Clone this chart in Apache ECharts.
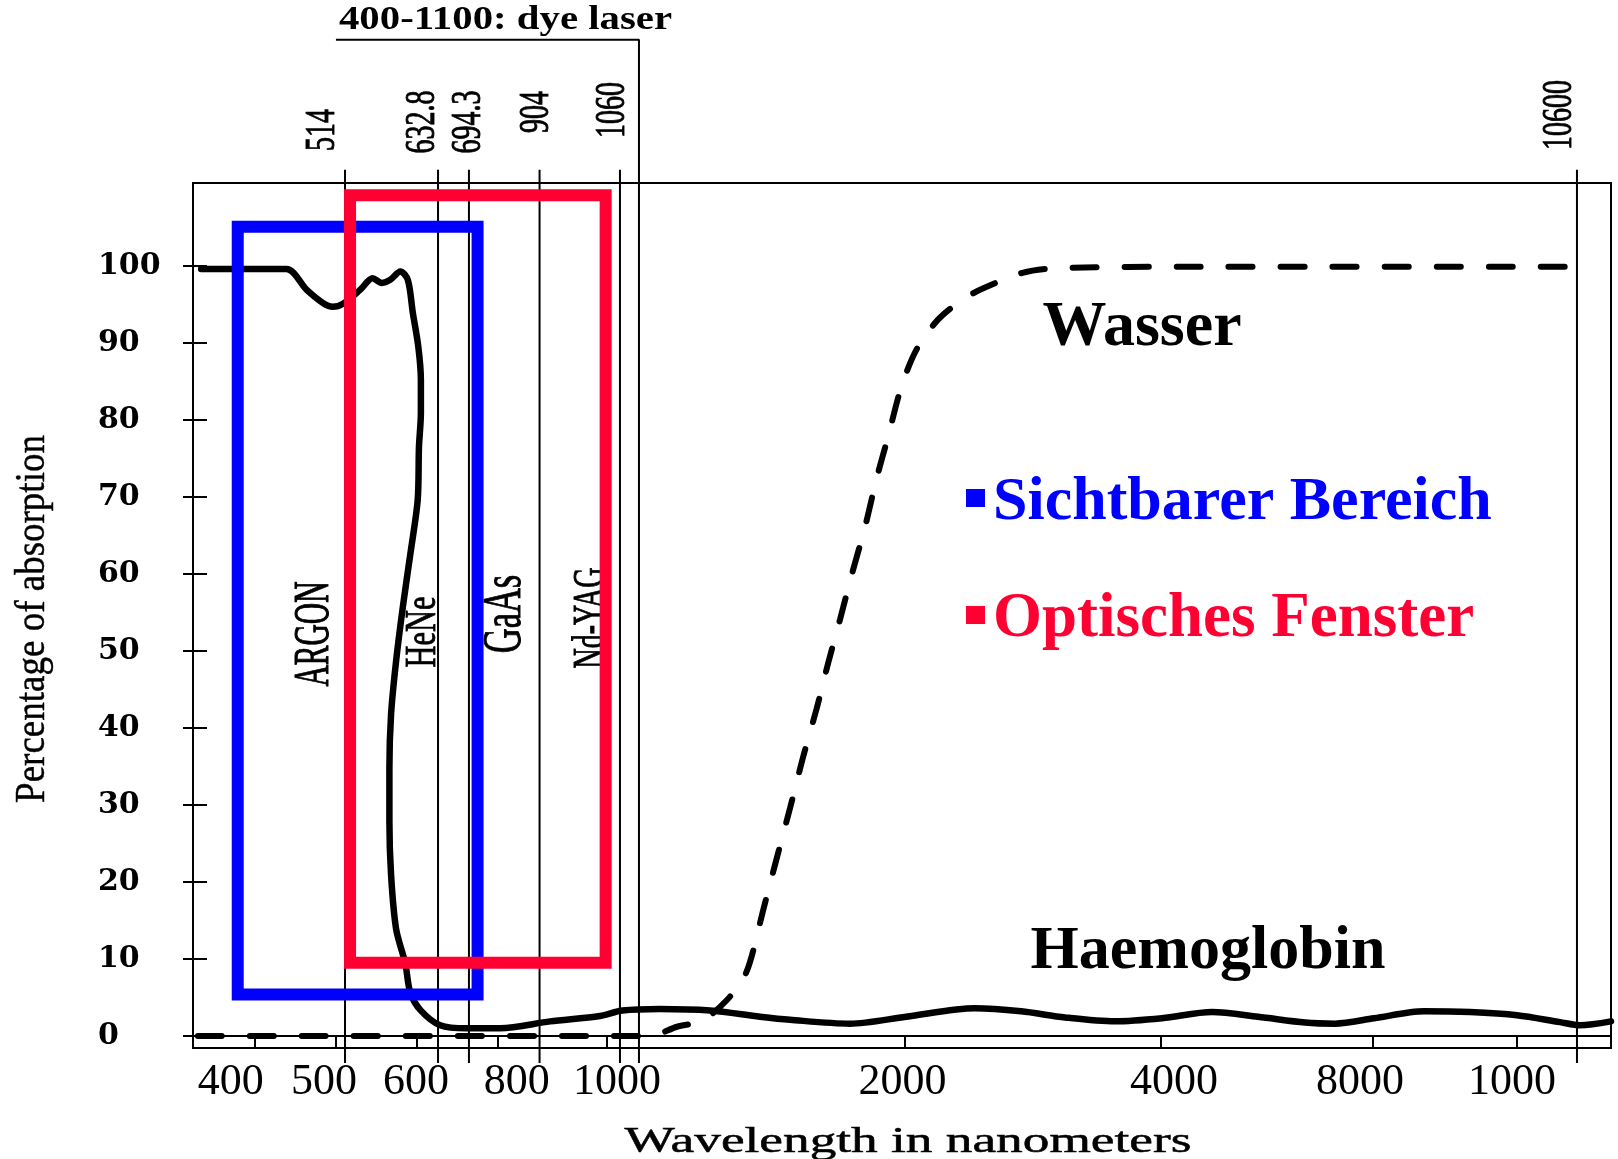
<!DOCTYPE html>
<html><head><meta charset="utf-8">
<script src="https://cdn.jsdelivr.net/npm/echarts@6/dist/echarts.min.js"></script>
<style>html,body{margin:0;padding:0;background:#fff}#c{width:1618px;height:1159px}</style>
</head><body><div id="c"></div>
<script>
// ---------------- DATA ----------------
const hbNm  = [334,439,464,484,496,511,532,547,558,568,580,589,595,602,606,606,603,601,592,583,575,569,567,567,569,575,586,592,606,637,690,806,919,990,1065,1171,1341,1510,1612,1815,2012,2550,2909,3252,3642,4019,4962,5830,6717,7283,8014,8708,9347,10000,10430,10630,10930];
const hbVal = [99.6,99.6,96.9,95.2,94.7,95.1,96.9,98.4,97.8,98.2,99.3,98.2,93.9,89.5,85.2,80.9,76.5,69.6,62.6,55.7,48.7,41.8,34.8,27.9,20.9,13.9,9.4,5.6,3.3,1.4,1.0,1.0,1.9,2.6,3.3,3.5,3.3,2.5,2.1,1.6,2.5,3.6,3.2,2.4,1.9,2.3,3.1,2.5,1.75,1.6,2.3,3.2,3.1,2.7,1.8,1.4,1.9];
const waterNm  = [330,1137,1229,1314,1399,1459,1483,1520,1567,1612,1656,1702,1741,1782,1821,1866,1906,1944,1990,2095,2259,2448,2614,2918,3172,4736,10540];
const waterVal = [0,0,1.2,2.0,4.7,7.9,10.5,16.2,23.1,29.6,36.2,42.5,48.4,54.2,59.9,66.1,72.5,77.8,84.4,89.2,93.0,95.6,97.1,99.1,99.7,99.9,99.9];
const curveNames = ['Haemoglobin','Wasser'];

const tickNm = [400,500,600,800,1000,2000,4000,8000,10000];
const tickLabels = ['400','500','600','800','1000','2000','4000','8000','1000'];
const yTicks = [0,10,20,30,40,50,60,70,80,90,100];

const laserNm = [514,632.8,694.3,904,1060,10600];
const laserLabels = ['514','632.8','694.3','904','1060','10600'];
const dyeRangeNm = [500,1100];
const dyeLabel = '400-1100: dye laser';
const bandLabels = ['ARGON','HeNe','GaAs','Nd-YAG'];

const boxNames = ['Sichtbarer Bereich','Optisches Fenster'];
const boxNm  = [[379,726],[520,998]];
const boxVal = [[5.4,105.1],[9.5,109.2]];

const xTitle = 'Wavelength in nanometers';
const yTitle = 'Percentage of absorption';

// ---------------- AXIS SCALE (the original's non-uniform wavelength axis) ----------------
const warpNm  = [324,400,500,514,600,632.8,694.3,800,904,1000,1060,1100,2000,4000,8000,10000,10600,10930];
const warpPos = [0,0.0436,0.1008,0.1072,0.1580,0.1728,0.1946,0.2149,0.2444,0.2920,0.3011,0.3145,0.5018,0.6827,0.8322,0.9337,0.9760,1.0];
function warp(nm){
  for(let i=0;i<warpNm.length-1;i++){
    if(nm<=warpNm[i+1] || i===warpNm.length-2){
      const t=(nm-warpNm[i])/(warpNm[i+1]-warpNm[i]);
      return warpPos[i]+t*(warpPos[i+1]-warpPos[i]);
    }
  }
}

// ---------------- STYLE / LAYOUT ----------------
const BLACK='#000';
const boxColors=['#0000ff','#ff0033'];
const serif='"Liberation Serif", "Times New Roman", serif';
const labelShift=[-24,-12,-1,19,10,-2,13,-13,-5];
const laserLabelDx=[-22,-15,0,-3,-7,-17];
const laserLabelY=[130,122,122,112,110,115];
const laserTopVal=112.5, laserBottomVal=-3.5, dyeTopVal=129.4;

const tickU = tickNm.map(warp);
function nearestIdx(v){let b=0;for(let i=1;i<tickU.length;i++){if(Math.abs(tickU[i]-v)<Math.abs(tickU[b]-v))b=i;}return b;}
const rich={};
labelShift.forEach((s,i)=>{rich['t'+i]={fontFamily:serif,fontSize:44,color:BLACK,padding:s<0?[0,-2*s,0,0]:[0,0,0,2*s]};});

const chart=echarts.init(document.getElementById('c'),null,{renderer:'canvas'});

const series=[];
laserNm.forEach((nm,i)=>{
  series.push({type:'line',silent:true,clip:false,z:1,symbol:'none',animation:false,
    lineStyle:{color:BLACK,width:2},
    data:[[warp(nm),laserBottomVal],[warp(nm),laserTopVal]]});
});
series.push({type:'line',silent:true,clip:false,z:1,symbol:'none',animation:false,
  lineStyle:{color:BLACK,width:2},
  data:[[warp(dyeRangeNm[0]),dyeTopVal],[warp(dyeRangeNm[1]),dyeTopVal],[warp(dyeRangeNm[1]),laserBottomVal]]});
series.push({name:curveNames[0],type:'line',z:3,symbol:'none',smooth:0.3,animation:false,
  lineStyle:{color:BLACK,width:6.5,cap:'round',join:'round'},
  data:hbNm.map((n,i)=>[warp(n),hbVal[i]])});
series.push({name:curveNames[1],type:'line',z:3,symbol:'none',smooth:0.3,animation:false,
  lineStyle:{color:BLACK,width:6,type:[24,28],cap:'round'},
  data:waterNm.map((n,i)=>[warp(n),waterVal[i]])});
series.push({type:'custom',z:5,silent:true,animation:false,clip:false,
  encode:{x:[0,1],y:[2,3]},
  data:boxNm.map((r,i)=>[warp(r[0]),warp(r[1]),boxVal[i][0],boxVal[i][1]]),
  renderItem:(params,api)=>{
    const p0=api.coord([api.value(0),api.value(2)]);
    const p1=api.coord([api.value(1),api.value(3)]);
    return {type:'rect',shape:{x:p0[0],y:p1[1],width:p1[0]-p0[0],height:p0[1]-p1[1]},
      style:{fill:'none',stroke:boxColors[params.dataIndex],lineWidth:12}};
  }});

const option={
  animation:false,
  backgroundColor:'#fff',
  grid:{left:193,right:7,top:183,bottom:111,show:true,borderColor:BLACK,borderWidth:2,backgroundColor:'transparent'},
  xAxis:{type:'value',min:0,max:1,
    axisLine:{show:true,lineStyle:{color:BLACK,width:2}},
    axisTick:{show:true,customValues:tickU,length:13,lineStyle:{color:BLACK,width:2}},
    axisLabel:{customValues:tickU,margin:12,fontFamily:serif,fontSize:44,color:BLACK,
      formatter:(v)=>{const i=nearestIdx(v);return '{t'+i+'|'+tickLabels[i]+'}';},rich:rich},
    splitLine:{show:false}},
  yAxis:[
    {type:'value',min:-1.56,max:110.78,
      axisLine:{show:true,lineStyle:{color:BLACK,width:2}},
      axisTick:{show:true,customValues:yTicks,length:10,lineStyle:{color:BLACK,width:2}},
      axisLabel:{customValues:yTicks,align:'left',margin:95,fontFamily:'"DejaVu Serif", serif',fontWeight:'bold',fontSize:30,color:BLACK},
      splitLine:{show:false}},
    {type:'value',min:-1.56,max:110.78,position:'left',
      axisLine:{show:false},
      axisTick:{show:true,inside:true,customValues:yTicks,length:14,lineStyle:{color:BLACK,width:2}},
      axisLabel:{show:false},splitLine:{show:false}}
  ],
  series:series
};
chart.setOption(option);

// ---------------- ANNOTATION TEXT ----------------
function px(nm,val){return chart.convertToPixel({gridIndex:0},[warp(nm),val]);}
const g=[];
laserNm.forEach((nm,i)=>{
  const p=px(nm,0);
  g.push({type:'text',x:p[0]+laserLabelDx[i],y:laserLabelY[i],rotation:Math.PI/2,scaleY:1.5,z:10,
    style:{text:laserLabels[i],fontFamily:serif,fontSize:28,fill:BLACK,stroke:BLACK,lineWidth:0.6,align:'center',verticalAlign:'middle'}});
});
const dyeStart=px(dyeRangeNm[0],dyeTopVal);
g.push({type:'text',x:dyeStart[0]+3,y:dyeStart[1]-19,scaleX:1.2,z:10,
  style:{text:dyeLabel,fontFamily:serif,fontWeight:'bold',fontSize:34,fill:BLACK,align:'left',verticalAlign:'middle'}});
const bandPos=[[315,634,29.5,1.69],[424,632,30.4,1.44],[505,614,34.5,1.6],[591,618,28,1.6]];
bandLabels.forEach((t,i)=>{
  const b=bandPos[i];
  g.push({type:'text',x:b[0],y:b[1],rotation:Math.PI/2,scaleY:b[3],z:0,
    style:{text:t,fontFamily:serif,fontSize:b[2],fill:BLACK,stroke:BLACK,lineWidth:0.6,align:'center',verticalAlign:'middle'}});
});
g.push({type:'text',x:33.5,y:619,rotation:Math.PI/2,scaleY:1.12,
  style:{text:yTitle,fontFamily:serif,fontSize:37,fill:BLACK,stroke:BLACK,lineWidth:0.4,align:'center',verticalAlign:'middle'}});
g.push({type:'text',x:908,y:1143,scaleX:1.48,
  style:{text:xTitle,fontFamily:serif,fontSize:36,fill:BLACK,stroke:BLACK,lineWidth:0.5,align:'center',verticalAlign:'middle'}});
g.push({type:'text',x:1142,y:328,z:10,
  style:{text:curveNames[1],fontFamily:serif,fontWeight:'bold',fontSize:64,fill:BLACK,align:'center',verticalAlign:'middle'}});
g.push({type:'text',x:1208,y:952,z:10,
  style:{text:curveNames[0],fontFamily:serif,fontWeight:'bold',fontSize:62,fill:BLACK,align:'center',verticalAlign:'middle'}});
const legY=[503,620], legF=[62,63];
boxNames.forEach((t,i)=>{
  g.push({type:'rect',z:10,shape:{x:966,y:legY[i]-14,width:19,height:18},style:{fill:boxColors[i]}});
  g.push({type:'text',x:993,y:legY[i],z:10,
    style:{text:t,fontFamily:serif,fontWeight:'bold',fontSize:legF[i],fill:boxColors[i],align:'left',verticalAlign:'middle'}});
});
chart.setOption({graphic:g});
</script></body></html>
